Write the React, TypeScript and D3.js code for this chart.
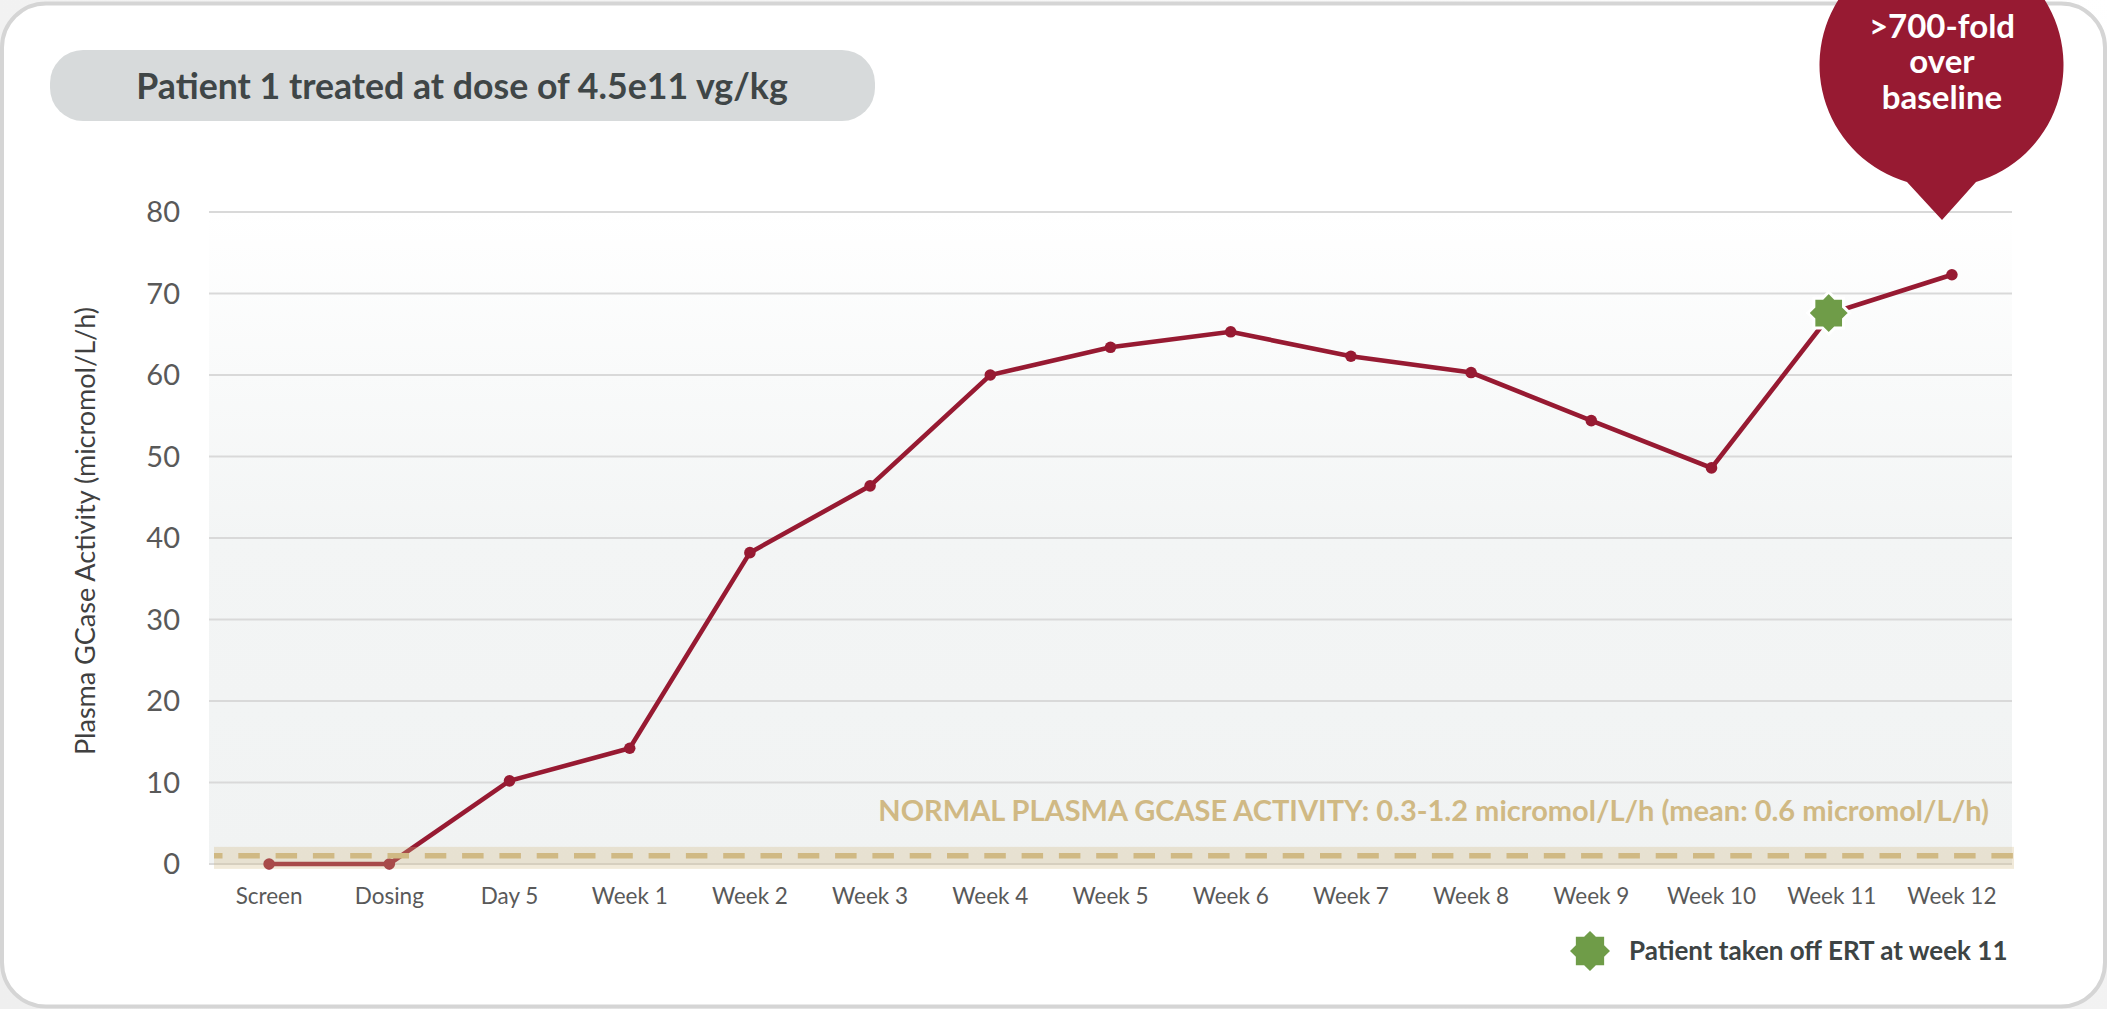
import React from "react";
import * as d3 from "d3";

const categories = ["Screen","Dosing","Day 5","Week 1","Week 2","Week 3","Week 4","Week 5","Week 6","Week 7","Week 8","Week 9","Week 10","Week 11","Week 12"];
const values = [0,0,10.2,14.2,38.2,46.4,60,63.4,65.3,62.3,60.3,54.4,48.6,67.6,72.3];
const yTicks = [0,10,20,30,40,50,60,70,80];
const normalBand = [-0.6, 2.1];
const normalLine = 1;
const offErtCategory = "Week 11";
const bubbleLines = [">700-fold","over","baseline"];

const FONT = "Lato, Carlito, sans-serif";
const RED = "#971a32";
const TAN = "#d0b984";
const GREEN = "#6f9c48";

function starPath(cx: number, cy: number, R: number) {
  const r = R * 0.765;
  const pts = d3.range(16).map(i => {
    const a = (i * Math.PI) / 8 - Math.PI / 2;
    const q = i % 2 === 0 ? R : r;
    return [cx + q * Math.cos(a), cy + q * Math.sin(a)];
  });
  return "M" + pts.map(p => p.join(",")).join("L") + "Z";
}

export default function App() {
  const x = d3.scaleBand<string>().domain(categories).range([209, 2012]);
  const y = d3.scaleLinear().domain([0, 80]).range([864, 212]);
  const cx = (c: string) => x(c)! + x.bandwidth() / 2;
  const line = d3.line<number>().x((_, i) => cx(categories[i])).y(d => y(d));
  const offIdx = categories.indexOf(offErtCategory);
  const starX = cx(offErtCategory) - 3, starY = y(values[offIdx]);
  const tipX = 1942;
  return (
    <svg width={2107} height={1009} style={{ position: "fixed", left: 0, top: 0, display: "block" }} fontFamily={FONT}>
      <defs>
        <linearGradient id="plotBg" x1="0" y1="0" x2="0" y2="1">
          <stop offset="0" stopColor="#ffffff" />
          <stop offset="0.5" stopColor="#f3f5f5" />
          <stop offset="1" stopColor="#f1f3f3" />
        </linearGradient>
        <linearGradient id="pageBg" x1="1" y1="0" x2="0" y2="1">
          <stop offset="0" stopColor="#ffffff" />
          <stop offset="0.35" stopColor="#f3f3f3" />
          <stop offset="1" stopColor="#efefef" />
        </linearGradient>
      </defs>
      <rect x={0} y={0} width={2107} height={1009} fill="url(#pageBg)" />
      <rect x={2} y={3.5} width={2103} height={1003} rx={44} ry={44} fill="#ffffff" stroke="#d5d5d5" strokeWidth={4} />
      <rect x={50} y={50} width={825} height={71} rx={33} fill="#d7dadb" />
      <text x={462} y={86} dy="0.36em" textAnchor="middle" fontSize={35.7} fontWeight={700} fill="#3f4647">Patient 1 treated at dose of 4.5e11 vg/kg</text>

      <rect x={209} y={y(80)} width={1803} height={y(0) - y(80)} fill="url(#plotBg)" />
      {yTicks.map(t => (
        <g key={t}>
          <line x1={209} x2={2012} y1={y(t)} y2={y(t)} stroke="#d9d9d9" strokeWidth={2} />
          <text x={180} y={y(t)} dy="0.36em" textAnchor="end" fontSize={29} fill="#595959">{t}</text>
        </g>
      ))}
      <text transform="translate(85,531) rotate(-90)" dy="0.36em" textAnchor="middle" fontSize={27} fill="#404040">Plasma GCase Activity (micromol/L/h)</text>
      {categories.map(c => (
        <text key={c} x={cx(c)} y={896} dy="0.36em" textAnchor="middle" fontSize={22.5} fill="#595959">{c}</text>
      ))}

      <path d={line(values)!} fill="none" stroke={RED} strokeWidth={4.6} />
      {values.map((v, i) => <circle key={i} cx={cx(categories[i])} cy={y(v)} r={5.8} fill={RED} />)}

      <rect x={214} y={y(normalBand[1])} width={1800} height={y(normalBand[0]) - y(normalBand[1])} fill="#d0b984" fillOpacity={0.3} />
      <line x1={214} x2={2015} y1={y(normalLine)} y2={y(normalLine)} stroke={TAN} strokeWidth={5.5} strokeDasharray="21.5 15.8" strokeDashoffset={13} />
      <text x={1989} y={811} dy="0.36em" textAnchor="end" fontSize={29} fontWeight={700} fill={TAN}>NORMAL PLASMA GCASE ACTIVITY: 0.3-1.2 micromol/L/h (mean: 0.6 micromol/L/h)</text>

      <path d={starPath(starX, starY, 21)} fill={GREEN} stroke="#ffffff" strokeWidth={3} />

      <path d={`M1907,182A122,122 0 1 1 1976,182L${tipX},220Z`} fill={RED} />
      {bubbleLines.map((l, i) => (
        <text key={l} x={tipX} y={26 + i * 35.5} dy="0.36em" textAnchor="middle" fontSize={33} fontWeight={700} fill="#ffffff">{l}</text>
      ))}

      <path d={starPath(1590, 951, 20)} fill={GREEN} />
      <text x={1629} y={951} dy="0.36em" fontSize={26} fontWeight={700} fill="#3d4444">Patient taken off ERT at week 11</text>
    </svg>
  );
}
